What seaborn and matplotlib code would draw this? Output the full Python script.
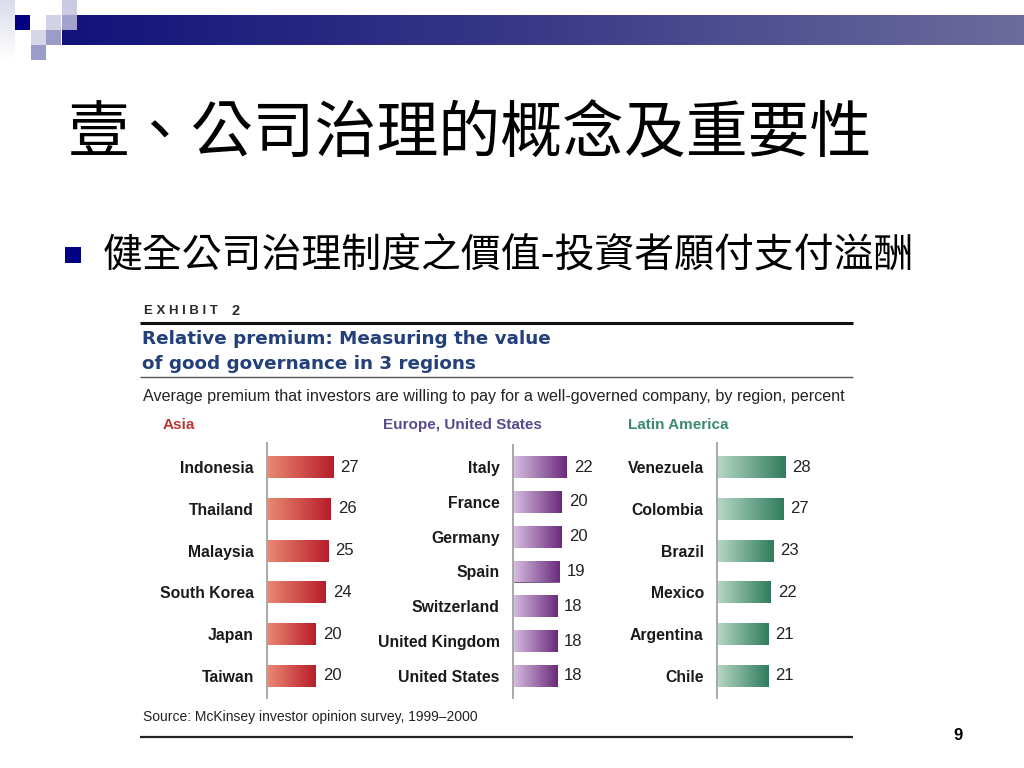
import numpy as np
import pandas as pd
import matplotlib
matplotlib.use("Agg")
import matplotlib.pyplot as plt
import seaborn as sns
from matplotlib.patches import Rectangle
from matplotlib.colors import LinearSegmentedColormap

# ---------------- data ----------------
asia_countries = ["Indonesia", "Thailand", "Malaysia", "South Korea", "Japan", "Taiwan"]
asia_values = [27, 26, 25, 24, 20, 20]
europe_countries = ["Italy", "France", "Germany", "Spain", "Switzerland",
                    "United Kingdom", "United States"]
europe_values = [22, 20, 20, 19, 18, 18, 18]
latam_countries = ["Venezuela", "Colombia", "Brazil", "Mexico", "Argentina", "Chile"]
latam_values = [28, 27, 23, 22, 21, 21]

slide_title = "壹、公司治理的概念及重要性"
bullet_text = "健全公司治理制度之價值-投資者願付支付溢酬"
exhibit_title = ["Relative premium: Measuring the value", "of good governance in 3 regions"]
subtitle = "Average premium that investors are willing to pay for a well-governed company, by region, percent"
source = "Source: McKinsey investor opinion survey, 1999\u20132000"

sns.set_theme(style="white")
SANS = ["Liberation Sans", "DejaVu Sans"]
HEAVY = ["DejaVu Sans"]
CJK = ["Noto Sans CJK TC", "DejaVu Sans"]
plt.rcParams["font.family"] = SANS

W, H = 1024, 768
fig = plt.figure(figsize=(W / 100, H / 100), dpi=100)
fig.patch.set_facecolor("white")

# background axes in pixel coordinates
bg = fig.add_axes([0, 0, 1, 1], zorder=0)
bg.set_xlim(0, W)
bg.set_ylim(H, 0)
bg.axis("off")

# slide decoration
grad = np.linspace(0, 1, 256).reshape(1, -1)
bar_cmap = LinearSegmentedColormap.from_list("bar", ["#12127a", "#3a3a88", "#6c6c9c"])
bg.imshow(grad, cmap=bar_cmap, extent=[62, W, 45, 15], aspect="auto", zorder=1)
strip_cmap = LinearSegmentedColormap.from_list("strip", ["#dcdcec", "#ffffff"])
bg.imshow(np.linspace(0, 1, 64).reshape(-1, 1), cmap=strip_cmap,
          extent=[0, 15, 60, 0], aspect="auto", zorder=1)
squares = [
    (15, 15, "#000080"),
    (46, 15, "#d2d2e6"), (62, 0, "#cacae2"), (62, 15, "#a2a2cc"),
    (31, 30, "#d6d6e9"), (46, 30, "#9c9cc8"),
    (31, 45, "#9c9cc8"),
]
for sx, sy, c in squares:
    bg.add_patch(Rectangle((sx, sy), 15, 15, facecolor=c, edgecolor="none", zorder=2))
bg.set_xlim(0, W)
bg.set_ylim(H, 0)

bg.text(68, 135, slide_title, fontsize=44.6, family=CJK, va="center", ha="left", color="black")
bg.add_patch(Rectangle((65, 247), 16, 16, facecolor="#000080", edgecolor="none"))
bg.text(103, 256, bullet_text, fontsize=28.7, family=CJK, va="center", ha="left", color="black")

# exhibit header
bg.text(144, 311, "E X H I B I T", fontsize=9.5, fontweight="bold", family=SANS,
        va="center", ha="left", color="#2a2a2a")
bg.text(232, 311, "2", fontsize=10.5, fontweight="bold", family=SANS,
        va="center", ha="left", color="#2a2a2a")
bg.plot([140, 853], [323, 323], color="#111111", lw=2.2, solid_capstyle="butt")
navy = "#24407a"
bg.text(142, 339, exhibit_title[0], fontsize=13.2, fontweight="bold",
        family=HEAVY, va="center", ha="left", color=navy)
bg.text(142, 364, exhibit_title[1], fontsize=13.2, fontweight="bold",
        family=HEAVY, va="center", ha="left", color=navy)
bg.plot([140, 853], [377, 377], color="#555555", lw=1.0, solid_capstyle="butt")
bg.text(143, 396, subtitle, fontsize=11.6, va="center", ha="left", color="#222222")
bg.text(143, 717, source, fontsize=10, va="center", ha="left", color="#222222")
bg.plot([140, 853], [737, 737], color="#222222", lw=1.6, solid_capstyle="butt")
bg.text(953, 736, "9", fontsize=12, fontweight="bold",
        family=SANS, va="center", ha="left", color="black")

# ---------------- panels ----------------
PX_PER_UNIT = 2.45
XMAX = 40


def panel(x_axis, top, bottom, first_c, last_c, countries, values, header, header_x,
          header_color, c_light, c_dark):
    n = len(countries)
    spacing = (last_c - first_c) / (n - 1)
    width_px = XMAX * PX_PER_UNIT
    ax = fig.add_axes([x_axis / W, 1 - bottom / H, width_px / W, (bottom - top) / H], zorder=2)
    ax.patch.set_alpha(0)
    df = pd.DataFrame({"country": countries, "value": values})
    sns.barplot(data=df, x="value", y="country", ax=ax, color=c_dark,
                width=22 / spacing, errorbar=None, orient="h")
    cmap = LinearSegmentedColormap.from_list("g", [c_light, c_dark])
    for p in ax.patches:
        x0, y0, w, h = p.get_x(), p.get_y(), p.get_width(), p.get_height()
        im = ax.imshow(grad, cmap=cmap, extent=[x0, x0 + w, y0 + h, y0],
                       aspect="auto", zorder=p.get_zorder() + 0.1, interpolation="bilinear")
        im.set_clip_path(p)
    ax.set_xlim(0, XMAX)
    y_top = -(first_c - top) / spacing
    y_bot = (n - 1) + (bottom - last_c) / spacing
    ax.set_ylim(y_bot, y_top)
    ax.bar_label(ax.containers[0], labels=[str(v) for v in values], padding=5,
                 fontsize=12, color="#222222")
    for t in ax.texts:
        t.set_zorder(5)
    ax.set_xlabel("")
    ax.set_ylabel("")
    ax.set_xticks([])
    ax.tick_params(axis="y", length=0, pad=9.5, labelsize=11.3, labelcolor="#1a1a1a")
    for lbl in ax.get_yticklabels():
        lbl.set_fontweight("bold")
    for s in ["top", "right", "bottom"]:
        ax.spines[s].set_visible(False)
    ax.spines["left"].set_color("#a8a8a8")
    ax.spines["left"].set_linewidth(1.4)
    ax.spines["left"].set_zorder(6)
    bg.text(header_x, 425, header, fontsize=11, fontweight="bold", color=header_color,
            va="center", ha="left")
    return ax


panel(267, 443, 698, 467, 676, asia_countries, asia_values, "Asia", 163,
      "#b83838", "#e98a74", "#b81c2a")
panel(513, 445, 698, 467, 676, europe_countries, europe_values, "Europe, United States", 383,
      "#5a4a8c", "#d8bfe0", "#6a2a7c")
panel(717, 443, 698, 467, 676, latam_countries, latam_values, "Latin America", 628,
      "#3f8a6c", "#b8d8c6", "#2f7c5c")

fig.savefig("out.png", dpi=100, facecolor="white")
